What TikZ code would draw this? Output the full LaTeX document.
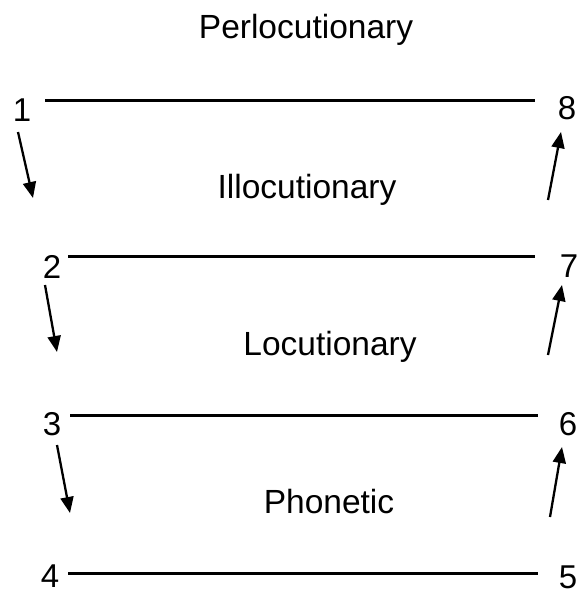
\documentclass[tikz,border=0pt]{standalone}
\usepackage{fontspec}
\setmainfont{Liberation Sans}
\usetikzlibrary{arrows.meta}
\begin{document}
\begin{tikzpicture}[x=1pt,y=-1pt,
  lbl/.style={anchor=base,inner sep=0pt,font=\fontsize{33.5}{40}\selectfont},
  num/.style={anchor=base,inner sep=0pt,font=\fontsize{33}{40}\selectfont},
  level/.style={line width=3pt},
  move/.style={line width=2.3pt,-{Triangle[length=16pt,width=13pt]}}]
\useasboundingbox (0,0) rectangle (579,594);
% level titles
\node[lbl] (perl) at (306,38) {Perlocutionary};
\node[lbl] (illo) at (307,198) {Illocutionary};
\node[lbl] (locu) at (330,355) {Locutionary};
\node[lbl] (phon) at (329,513) {Phonetic};
% numbers
\node[num] (n1) at (22,121) {1};
\node[num] (n2) at (52,278) {2};
\node[num] (n3) at (52,435) {3};
\node[num] (n4) at (50,587) {4};
\node[num] (n5) at (568,588) {5};
\node[num] (n6) at (568,435) {6};
\node[num] (n7) at (569,277) {7};
\node[num] (n8) at (567,119) {8};
% line end points
\coordinate (l1a) at (45,100);  \coordinate (l1b) at (535,100);
\coordinate (l2a) at (68,256);  \coordinate (l2b) at (535,256);
\coordinate (l3a) at (70,415);  \coordinate (l3b) at (538,415);
\coordinate (l4a) at (68,573);  \coordinate (l4b) at (538,573);
\draw[level] (l1a) -- (l1b);
\draw[level] (l2a) -- (l2b);
\draw[level] (l3a) -- (l3b);
\draw[level] (l4a) -- (l4b);
% arrow end points
\coordinate (d1s) at (18,132);  \coordinate (d1e) at (33,198);
\coordinate (d2s) at (45,285);  \coordinate (d2e) at (57,352);
\coordinate (d3s) at (57,445);  \coordinate (d3e) at (70,513);
\coordinate (u1s) at (548,200); \coordinate (u1e) at (561,132);
\coordinate (u2s) at (548,355); \coordinate (u2e) at (562,285);
\coordinate (u3s) at (550,517); \coordinate (u3e) at (562,447);
\draw[move] (d1s) -- (d1e);
\draw[move] (d2s) -- (d2e);
\draw[move] (d3s) -- (d3e);
\draw[move] (u1s) -- (u1e);
\draw[move] (u2s) -- (u2e);
\draw[move] (u3s) -- (u3e);
\end{tikzpicture}
\end{document}
